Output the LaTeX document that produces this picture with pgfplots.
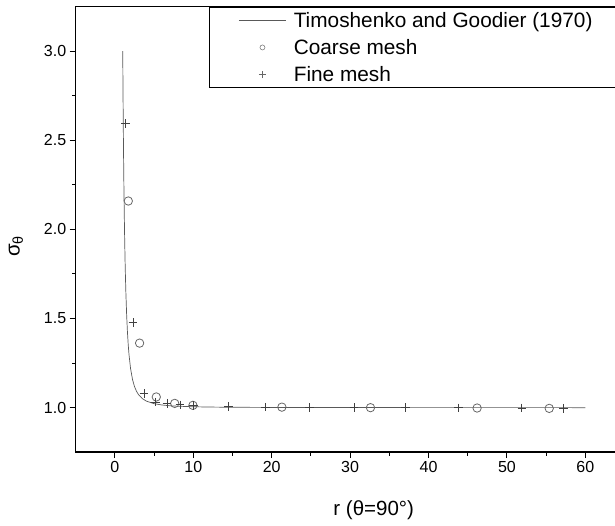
\documentclass[border=0pt]{standalone}
\usepackage{fontspec}
\setmainfont{Liberation Sans}
\usepackage{pgfplots}
\pgfplotsset{compat=1.18}

\begin{document}
\begin{tikzpicture}
\begin{axis}[
  name=ax,
  scale only axis,
  width=548.8pt, height=445.75pt,
  xmin=-5, xmax=65, ymin=0.75, ymax=3.25,
  xtick={0,10,...,60}, minor xtick={5,15,...,55},
  ytick={1.0,1.5,2.0,2.5,3.0}, minor ytick={1.25,1.75,2.25,2.75},
  tick pos=left, tick align=outside,
  major tick length=6pt, minor tick length=3.5pt,
  every tick/.style={black, line width=1pt},
  axis line style={line width=1.6pt},
  tick label style={font=\fontsize{16}{19}\selectfont, black},
  /pgf/number format/assume math mode=true,
  yticklabel style={/pgf/number format/.cd,fixed,fixed zerofill,precision=1},
  xlabel={r (θ=90°)},
  ylabel={σ\textsubscript{θ}},
  label style={font=\fontsize{20.5}{24}\selectfont},
  xlabel style={at={(ticklabel cs:0.543,21pt)}},
  ylabel style={at={(ticklabel cs:0.462,14pt)}},
  legend style={at={(rel axis cs:0.2429,1)}, anchor=north west, draw=black, line width=1.2pt,
    font=\fontsize{20.8}{24}\selectfont, inner xsep=29pt, inner ysep=3pt,
    nodes={inner ysep=2pt, inner xsep=1.5pt}, column sep=6pt, row sep=6.5pt},
  legend cell align=left,
]
\addplot[black!65, line width=0.7pt, no marks,
  legend image code/.code={\draw[black!65, line width=0.7pt] (0pt,0pt) -- (47pt,0pt);}]
  coordinates {
  (1.00,3.0000)(1.02,2.8664)(1.05,2.6876)(1.08,2.5312)(1.10,2.4377)(1.15,2.2357)
  (1.20,2.0706)(1.25,1.9344)(1.30,1.8211)(1.35,1.7260)(1.40,1.6456)(1.50,1.5185)
  (1.60,1.4242)(1.70,1.3526)(1.80,1.2972)(2.00,1.2188)(2.25,1.1573)(2.50,1.1184)
  (2.75,1.0923)(3.00,1.0741)(3.50,1.0508)(4.00,1.0371)(5.00,1.0224)(6.00,1.0150)
  (7.00,1.0108)(8.00,1.0082)(10,1.0052)(12,1.0035)(15,1.0022)(20,1.0013)
  (30,1.0006)(40,1.0003)(50,1.0002)(60,1.0001)
  };
\addlegendentry{Timoshenko and Goodier (1970)}
\addplot[only marks, mark=o, black!60, mark size=4.2pt, mark options={line width=0.8pt},
  legend image code/.code={\draw[black!50, line width=0.6pt] (23.5pt,0pt) circle (2.5pt);}]
  coordinates {
  (1.71,2.159)(3.15,1.362)(5.28,1.060)(7.63,1.024)(9.95,1.013)
  (21.3,1.003)(32.6,1.000)(46.2,0.998)(55.4,0.996)
  };
\addlegendentry{Coarse mesh}
\addplot[only marks, mark=+, black!75, mark size=4.3pt, mark options={line width=0.8pt},
  legend image code/.code={\draw[black!60, line width=0.6pt] (20pt,0pt) -- (27pt,0pt) (23.5pt,-3.5pt) -- (23.5pt,3.5pt);}]
  coordinates {
  (1.36,2.593)(2.30,1.477)(3.70,1.080)(5.19,1.031)(6.65,1.025)(8.30,1.016)
  (10.0,1.013)(14.5,1.006)(19.2,1.003)(24.8,1.002)(30.5,1.001)(37.1,1.000)
  (43.8,0.999)(51.9,0.998)(57.2,0.997)
  };
\addlegendentry{Fine mesh}
\end{axis}
\pgfresetboundingbox
\useasboundingbox ([xshift=-75.7pt,yshift=-73.3pt]ax.south west) rectangle ([xshift=539.3pt,yshift=6.5pt]ax.north west);
\end{tikzpicture}
\end{document}
